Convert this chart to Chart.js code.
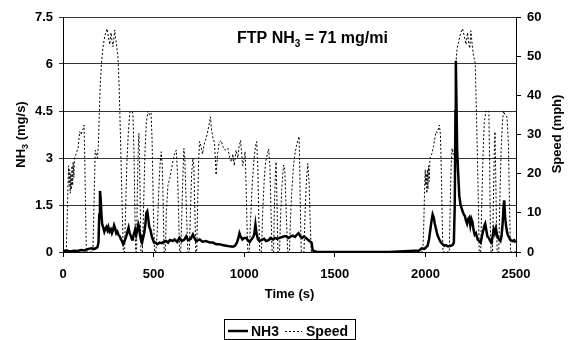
<!DOCTYPE html>
<html>
<head>
<meta charset="utf-8">
<script src="https://cdn.jsdelivr.net/npm/chart.js@4/dist/chart.umd.min.js"></script>
<style>
html,body{margin:0;padding:0;background:#fff;}
canvas{display:block;}
</style>
</head>
<body>
<canvas id="c" width="568" height="340"></canvas>
<script>
// ---- Data ----
const timeTicks = [0, 500, 1000, 1500, 2000, 2500];
const nh3TickLabels = ['0', '1.5', '3', '4.5', '6', '7.5'];
const speedTickLabels = ['0', '10', '20', '30', '40', '50', '60'];

// NH3 emission rate (mg/s) vs time (s)
const nh3Time = [0,20,40,60,80,100,120,140,160,175,190,196,200,204,208,212,216,221,228,234,239,245,250,257,264,270,276,282,288,294,300,306,313,320,326,332,340,349,356,362,368,375,381,386,392,398,404,410,416,420,425,430,436,442,448,455,460,465,470,476,482,490,496,502,
510,520,533,545,555,570,580,590,606,616,630,643,655,670,680,690,705,717,725,735,754,770,790,810,827,845,864,880,901,920,937,950,960,968,974,980,990,1000,1011,1020,1030,1040,1047,1055,1062,1068,1076,1084,1095,1110,1121,1135,1145,1158,1170,1182,1195,1210,1222,1231,1245,1258,1268,1280,1290,1300,1310,1320,1330,1340,1350,1360,1372,1378,1400,1600,1800,1966,
1980,1995,2003,2012,2020,2028,2034,2040,2046,2052,2058,2066,2077,2086,2095,2105,2113,2125,2140,2150,2157,2162,2166,2168,2171,2175,2180,2187,2194,2200,2205,2212,2218,2224,2230,2236,2242,2248,2254,2260,2266,2272,2279,2288,2297,2305,2312,2320,2325,2330,2336,2342,2350,2358,2365,2371,2377,2383,2389,2395,2401,2407,2414,2420,2426,2432,2435,2440,2446,2452,2458,2463,2470,2480,2490,2497];
const nh3Rate = [0.03,0.05,0.02,0.04,0.03,0.06,0.05,0.1,0.12,0.1,0.15,0.3,1.2,1.95,1.7,1.2,0.9,0.8,0.65,0.75,0.8,0.7,0.8,0.65,0.72,0.6,0.7,0.85,0.75,0.6,0.65,0.55,0.5,0.4,0.35,0.25,0.35,0.5,0.65,0.78,0.6,0.5,0.4,0.45,0.6,0.72,0.55,0.7,0.88,0.8,0.55,0.4,0.3,0.45,0.6,0.9,1.25,1.3,1.1,0.8,0.72,0.5,0.4,0.3,
0.3,0.25,0.3,0.28,0.32,0.35,0.3,0.38,0.35,0.4,0.32,0.45,0.35,0.4,0.5,0.38,0.42,0.56,0.45,0.35,0.4,0.33,0.35,0.3,0.3,0.25,0.25,0.22,0.2,0.18,0.17,0.2,0.3,0.45,0.6,0.5,0.4,0.45,0.45,0.38,0.32,0.4,0.45,0.55,0.88,0.6,0.4,0.35,0.38,0.42,0.35,0.38,0.45,0.4,0.45,0.42,0.45,0.48,0.5,0.5,0.45,0.5,0.52,0.48,0.55,0.6,0.5,0.45,0.5,0.45,0.4,0.35,0.3,0.05,0,0,0,0.05,
0.12,0.1,0.15,0.2,0.4,0.75,1.0,1.2,1.1,0.9,0.75,0.55,0.4,0.3,0.25,0.2,0.22,0.18,0.2,0.22,0.3,1.5,4.5,6.1,5.0,3.3,2.6,1.8,1.5,1.4,1.3,1.2,1.15,1.0,0.9,1.05,1.1,0.85,1.05,0.95,0.7,0.55,0.6,0.4,0.35,0.3,0.5,0.7,0.83,0.9,0.7,0.5,0.45,0.35,0.3,0.5,0.72,0.6,0.75,0.55,0.45,0.4,0.35,0.5,0.9,1.5,1.65,1.1,0.8,0.6,0.5,0.45,0.38,0.35,0.38,0.3];

// Vehicle speed (mph) vs time (s)
const speedTime = [0,18,23,28,31,34,37,40,43,46,50,53,56,60,64,72,83,92,100,106,112,116,120,125,129,165,170,175,178,184,190,195,200,206,212,220,230,243,250,258,265,270,276,285,292,303,310,318,325,333,340,345,352,360,368,375,386,392,397,401,406,410,416,419,423,427,430,438,444,452,460,469,478,486,492,498,505,
512,520,528,535,542,548,553,558,565,570,579,590,598,606,615,625,632,638,643,650,656,662,667,672,680,689,697,703,710,717,722,728,733,738,743,749,754,762,770,781,790,800,808,814,820,828,836,845,853,862,873,882,895,910,920,930,937,945,955,965,972,980,986,992,1000,1005,1010,1015,1020,1028,1035,1045,1055,1062,1069,1075,1080,1086,1095,1102,1110,1118,1128,1135,1142,1148,1154,1162,1166,1172,1176,1180,1186,1195,1200,1207,1213,1218,1224,1232,1240,1250,1255,1262,1272,1280,1288,1296,1303,1307,1311,1315,1330,1336,1343,1351,1358,1364,1370,1400,1700,1985,
1990,1995,1999,2002,2005,2008,2011,2014,2017,2021,2025,2035,2045,2058,2066,2077,2083,2088,2093,2097,2132,2137,2142,2147,2152,2158,2163,2168,2175,2185,2195,2205,2215,2224,2233,2240,2245,2251,2258,2266,2275,2282,2290,2297,2305,2310,2318,2325,2334,2343,2350,2354,2358,2362,2370,2375,2380,2384,2388,2392,2396,2405,2410,2418,2425,2431,2440,2450,2458,2464,2470,2500];
const speedMph = [0,0,8,18,22,17,21,15,20,16,22,17,23,19,24,25,26.5,30.7,30,31,31.5,32.4,24,10,0,0,10,20,26,25,24,27,35,43,48,52,55,57,55,53,56,54,52.4,56.7,54,50,42,28,14,0,0,10,22,30,35.5,36,35.5,25,10,0,0,15,28,30.3,22,10,0,0,10,25,33,36,35,35.5,28,12,0,
0,5,15,22,25.6,22,12,0,0,10,17,19,21,23,25,26,20,10,0,0,10,20,26.5,24,12,0,0,10,20,24,22,10,0,0,12,24,28.2,27,25,28,29,31,33,34.5,31,29,28,19.7,25,28,28.5,27,26,26.5,24,23,25,22,26,24,27,28.5,25,22,24,25.6,18,8,0,0,8,18,24,27,28.2,22,10,0,0,10,18,23,25,26.3,22,10,0,0,10,20,23,15,0,0,8,16,20,22.2,21,10,0,0,8,15,22,25,27,28.6,29.5,20,8,0,0,10,18,22.6,18,8,0,0,0,0,
5,15,21,17,20,15,21,16,22,18,24,25,27,30.7,30.5,32.4,30,20,8,0,0,12,22,26.5,25,25,30,48,52,54,56,57,55,53,56,53,52,56.5,53,50,48.2,35,18,0,0,10,25,33,36,35.8,36,25,8,0,0,12,25,30.7,20,8,0,0,12,26,33,36,35,34.5,28,12,0,0];

// ---- Chart ----
const FONT = '"Liberation Sans", Arial, Helvetica, sans-serif';
const tickFont = {family: FONT, size: 13, weight: 'bold'};

const textPlugin = {
  id: 'texts',
  afterDraw(chart) {
    const ctx = chart.ctx;
    ctx.save();
    ctx.fillStyle = '#000';
    ctx.textBaseline = 'alphabetic';

    // text runs with optional subscript parts: [text, isSub, size, dy]
    function subText(parts, x, y, align) {
      const widths = parts.map(p => {
        ctx.font = 'bold ' + p[2] + 'px ' + FONT;
        return ctx.measureText(p[0]).width;
      });
      const total = widths.reduce((a, b) => a + b, 0);
      let cx = align === 'center' ? x - total / 2 : x;
      parts.forEach((p, i) => {
        ctx.font = 'bold ' + p[2] + 'px ' + FONT;
        ctx.textAlign = 'left';
        ctx.fillText(p[0], cx, y + (p[1] ? p[3] : 0));
        cx += widths[i];
      });
    }
    subText([['FTP NH', false, 16], ['3', true, 10, 4], [' = 71 mg/mi', false, 16]], 237, 43, 'left');

    // left axis title (rotated)
    ctx.save();
    ctx.translate(25, 134.5);
    ctx.rotate(-Math.PI / 2);
    subText([['NH', false, 13], ['3', true, 9, 3], [' (mg/s)', false, 13]], 0, 0, 'center');
    ctx.restore();

    // right axis title (rotated)
    ctx.save();
    ctx.translate(561, 134);
    ctx.rotate(-Math.PI / 2);
    ctx.font = 'bold 13px ' + FONT;
    ctx.textAlign = 'center';
    ctx.fillText('Speed (mph)', 0, 0);
    ctx.restore();

    // x axis title
    ctx.font = 'bold 13px ' + FONT;
    ctx.textAlign = 'center';
    ctx.fillText('Time (s)', (chart.chartArea.left + chart.chartArea.right) / 2, 298);

    // legend box
    const ds = chart.data.datasets;
    ctx.strokeStyle = '#000';
    ctx.lineWidth = 1;
    ctx.strokeRect(224.5, 319.5, 131, 20);
    ctx.beginPath();
    ctx.lineWidth = ds[0].borderWidth;
    ctx.setLineDash([]);
    ctx.moveTo(228, 331); ctx.lineTo(248, 331);
    ctx.stroke();
    ctx.beginPath();
    ctx.lineWidth = ds[1].borderWidth;
    ctx.setLineDash(ds[1].borderDash);
    ctx.moveTo(285, 331.5); ctx.lineTo(302, 331.5);
    ctx.stroke();
    ctx.setLineDash([]);
    ctx.font = 'bold 14px ' + FONT;
    ctx.textAlign = 'left';
    ctx.fillText(ds[0].label, 251, 336);
    ctx.fillText(ds[1].label, 306, 336);
    ctx.restore();
  }
};

new Chart(document.getElementById('c'), {
  type: 'line',
  data: {
    datasets: [
      {
        label: 'NH3',
        data: nh3Time.map((t, i) => ({x: t, y: nh3Rate[i]})),
        yAxisID: 'y',
        borderColor: '#000',
        borderWidth: 2.5,
        pointRadius: 0,
        tension: 0,
        fill: false
      },
      {
        label: 'Speed',
        data: speedTime.map((t, i) => ({x: t, y: speedMph[i]})),
        yAxisID: 'y2',
        borderColor: '#000',
        borderWidth: 1,
        borderDash: [2, 2],
        pointRadius: 0,
        tension: 0,
        fill: false
      }
    ]
  },
  options: {
    responsive: false,
    animation: false,
    devicePixelRatio: 1,
    layout: {padding: {left: 0, right: 0, top: 17, bottom: 58}},
    plugins: {legend: {display: false}, tooltip: {enabled: false}, title: {display: false}},
    scales: {
      x: {
        type: 'linear',
        min: timeTicks[0],
        max: timeTicks[timeTicks.length - 1],
        afterBuildTicks(s) { s.ticks = timeTicks.map(v => ({value: v})); },
        ticks: {font: tickFont, color: '#000', padding: 10, maxRotation: 0, callback: v => String(v)},
        grid: {drawOnChartArea: false, drawTicks: true, tickLength: 5, color: '#000'},
        border: {display: true, color: '#000', width: 1},
        afterFit(s) { s.height = 30; }
      },
      y: {
        position: 'left',
        min: 0,
        max: 7.5,
        afterBuildTicks(s) { s.ticks = nh3TickLabels.map(l => ({value: parseFloat(l)})); },
        ticks: {font: tickFont, color: '#000', padding: 6, callback: (v, i) => nh3TickLabels[i]},
        grid: {color: '#333', lineWidth: 1, tickLength: 4},
        border: {display: true, color: '#000', width: 1},
        afterFit(s) { s.width = 63; }
      },
      y2: {
        position: 'right',
        min: 0,
        max: 60,
        afterBuildTicks(s) { s.ticks = speedTickLabels.map(l => ({value: parseFloat(l)})); },
        ticks: {font: tickFont, color: '#000', padding: 6, callback: (v, i) => speedTickLabels[i]},
        grid: {drawOnChartArea: false, tickLength: 5, color: '#000'},
        border: {display: true, color: '#000', width: 1},
        afterFit(s) { s.width = 52; }
      }
    }
  },
  plugins: [textPlugin]
});
</script>
</body>
</html>
